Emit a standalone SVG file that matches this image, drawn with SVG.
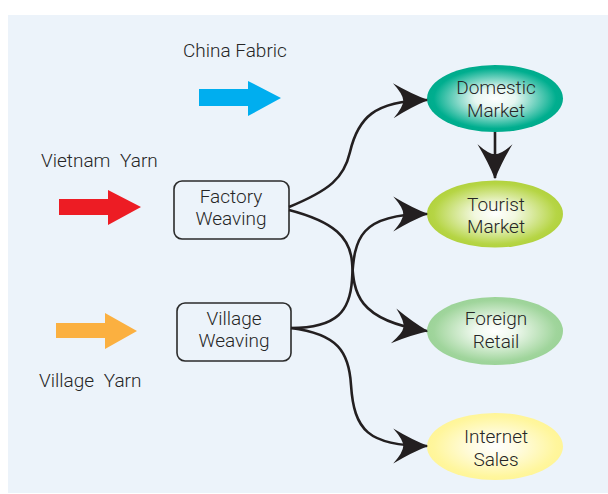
<svg xmlns="http://www.w3.org/2000/svg" width="608" height="494" viewBox="0 0 608 494">
  <style>
    .lbl { font-family: Roboto, "Liberation Sans", sans-serif; font-weight: 300; font-size: 19px; fill: #262626; }
    .mid { text-anchor: middle; }
    .box { fill: none; stroke: #2b2b2b; stroke-width: 1.6; }
    .link { fill: none; stroke: #231f20; stroke-width: 2.6; marker-end: url(#head); }
  </style>
  <defs>
    <marker id="head" markerUnits="userSpaceOnUse" markerWidth="40" markerHeight="40" viewBox="-30 -16 32 32" refX="0" refY="0" orient="auto">
      <path d="M1,0 Q-12,-5 -27,-14 Q-19,-5 -19,0 Q-19,5 -27,14 Q-12,5 1,0 Z" fill="#231f20"/>
    </marker>
    <radialGradient id="gDomestic" cx="0.5" cy="0.5" r="0.5">
      <stop offset="0" stop-color="#ffffff"/>
      <stop offset="0.3" stop-color="#e6f6f1"/>
      <stop offset="0.9" stop-color="#00ae8f"/>
      <stop offset="1" stop-color="#00ab8c"/>
    </radialGradient>
    <radialGradient id="gTourist" cx="0.5" cy="0.5" r="0.5">
      <stop offset="0" stop-color="#ffffff"/>
      <stop offset="0.3" stop-color="#f2f8df"/>
      <stop offset="0.9" stop-color="#b6d545"/>
      <stop offset="1" stop-color="#b2d23e"/>
    </radialGradient>
    <radialGradient id="gForeign" cx="0.5" cy="0.5" r="0.5">
      <stop offset="0" stop-color="#ffffff"/>
      <stop offset="0.3" stop-color="#eef8ed"/>
      <stop offset="0.9" stop-color="#a0d59c"/>
      <stop offset="1" stop-color="#9cd398"/>
    </radialGradient>
    <radialGradient id="gInternet" cx="0.5" cy="0.5" r="0.5">
      <stop offset="0" stop-color="#ffffff"/>
      <stop offset="0.3" stop-color="#fffce6"/>
      <stop offset="0.9" stop-color="#fff69d"/>
      <stop offset="1" stop-color="#fff598"/>
    </radialGradient>
  </defs>

  <!-- page -->
  <rect x="0" y="0" width="608" height="494" fill="#ffffff"/>
  <rect x="8" y="15" width="600" height="478" fill="#ecf3fa"/>

  <!-- input arrows and their labels -->
  <g id="china-fabric">
    <polygon points="199,89 248,89 248,81 281,98 248,116 248,106 199,106" fill="#00aeef"/>
    <text class="lbl" x="183" y="57">China Fabric</text>
  </g>
  <g id="vietnam-yarn">
    <polygon points="59,199 108,199 108,190 141,207 108,225 108,215 59,215" fill="#ed1c24"/>
    <text class="lbl" x="41" y="167" word-spacing="5">Vietnam Yarn</text>
  </g>
  <g id="village-yarn">
    <polygon points="56,323 105,323 105,313 137,331 105,349 105,338 56,338" fill="#fbb040"/>
    <text class="lbl" x="39" y="387" word-spacing="5">Village Yarn</text>
  </g>

  <!-- producers -->
  <g id="factory-weaving">
    <rect class="box" x="174" y="181" width="115" height="58" rx="8"/>
    <text class="lbl mid" x="231" y="203">Factory</text>
    <text class="lbl mid" x="231" y="225">Weaving</text>
  </g>
  <g id="village-weaving">
    <rect class="box" x="177" y="303" width="114" height="58" rx="8"/>
    <text class="lbl mid" x="234" y="325">Village</text>
    <text class="lbl mid" x="234" y="347">Weaving</text>
  </g>

  <!-- markets -->
  <g id="domestic-market">
    <ellipse cx="495" cy="98.5" rx="68" ry="33.5" fill="url(#gDomestic)"/>
    <text class="lbl mid" x="496" y="94">Domestic</text>
    <text class="lbl mid" x="496" y="117">Market</text>
  </g>
  <g id="tourist-market">
    <ellipse cx="495" cy="214" rx="68" ry="33.5" fill="url(#gTourist)"/>
    <text class="lbl mid" x="496" y="211">Tourist</text>
    <text class="lbl mid" x="496" y="233">Market</text>
  </g>
  <g id="foreign-retail">
    <ellipse cx="495" cy="331" rx="68" ry="34" fill="url(#gForeign)"/>
    <text class="lbl mid" x="496" y="325">Foreign</text>
    <text class="lbl mid" x="496" y="348">Retail</text>
  </g>
  <g id="internet-sales">
    <ellipse cx="495" cy="446.5" rx="68" ry="33.5" fill="url(#gInternet)"/>
    <text class="lbl mid" x="496" y="443">Internet</text>
    <text class="lbl mid" x="496" y="466">Sales</text>
  </g>

  <!-- connectors -->
  <g id="connectors">
    <path class="link" d="M289,207 C330,190 344,178 350,152 C358,118 374,101 427,100"/>
    <path class="link" d="M289,210 C335,222 350,238 352,262 C354,292 356,320 427,331"/>
    <path class="link" d="M291,328 C338,328 350,310 352,280 C354,238 360,214 427,214"/>
    <path class="link" d="M291,328 C338,334 349,352 351,385 C354,430 368,446 427,446"/>
    <path class="link" d="M495,132 L495,178"/>
  </g>
</svg>
